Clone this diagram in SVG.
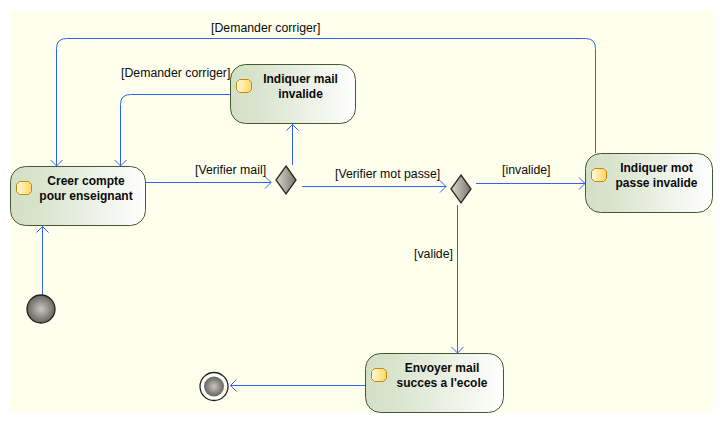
<svg xmlns="http://www.w3.org/2000/svg" width="723" height="423" viewBox="0 0 723 423">
<style>
.n{fill:url(#ng);stroke:#44592f;stroke-width:1}
.ic{fill:url(#ig);stroke:#c28a00;stroke-width:1}
.d{fill:url(#dg);stroke:#2a2a22;stroke-width:1.3}
.c{fill:none;stroke:#2f62f5;stroke-width:1;marker-end:url(#a)}
text{font-family:"Liberation Sans",Arial,sans-serif;font-size:12px;fill:#0a0a0a}
.l{font-size:12.300px}
.b{font-weight:bold;text-anchor:middle}
</style>
<defs>
<linearGradient id="ng"><stop offset="0" stop-color="#d3e0c6"/><stop offset="0.2" stop-color="#d8e3cc"/><stop offset="1" stop-color="#ffffff"/></linearGradient>
<linearGradient id="ig"><stop offset="0" stop-color="#fff9e0"/><stop offset="1" stop-color="#ffd860"/></linearGradient>
<linearGradient id="dg"><stop offset="0" stop-color="#d8d8ce"/><stop offset="1" stop-color="#777770"/></linearGradient>
<radialGradient id="sg"><stop offset="0" stop-color="#c8c8c0"/><stop offset="1" stop-color="#66665f"/></radialGradient>
<marker id="a" markerUnits="userSpaceOnUse" markerWidth="14" markerHeight="14" refX="9" refY="7" orient="auto"><path d="M3 1 L9 7 L3 13" fill="none" stroke="#2f62f5" stroke-width="1"/></marker>
<path id="ico" class="ic" d="M3 0H12L15 3V10L12 13H3L0 10V3Z"/>
</defs>
<rect x="10" y="10" width="703" height="403" fill="#ffffee"/>
<g id="connectors">
<path class="c" d="M42.500 295V226.500"/>
<path class="c" d="M146 182.500H271"/>
<path class="c" d="M292.500 165V124.500"/>
<path class="c" d="M302 186.500H446"/>
<path class="c" d="M476 183.500H585"/>
<path class="c" d="M457.500 205V353"/>
<path class="c" d="M365 385.500H230.500"/>
<path class="c" d="M230 94.500H130.500Q120.500 94.500 120.500 104.500V166"/>
<path class="c" d="M595.500 153V48.500Q595.500 38.500 585.500 38.500H66.500Q56.500 38.500 56.500 48.500V166"/>
</g>
<g id="labels">
<text class="l" x="211" y="32">[Demander corriger]</text>
<text class="l" x="121" y="77">[Demander corriger]</text>
<text class="l" x="195" y="174">[Verifier mail]</text>
<text class="l" x="335" y="178">[Verifier mot passe]</text>
<text class="l" x="502" y="174">[invalide]</text>
<text class="l" x="414" y="258">[valide]</text>
</g>
<g id="creer"><rect class="n" x="10.500" y="166.500" width="135" height="59" rx="15"/><use href="#ico" x="16.500" y="181.500"/><text class="b" x="86" y="185">Creer compte</text><text class="b" x="86" y="200">pour enseignant</text></g>
<g id="mail"><rect class="n" x="230.500" y="64.500" width="125" height="59" rx="15"/><use href="#ico" x="236.500" y="79.500"/><text class="b" x="300.500" y="83">Indiquer mail</text><text class="b" x="300.500" y="98">invalide</text></g>
<g id="mot"><rect class="n" x="585.500" y="153.500" width="127" height="59" rx="15"/><use href="#ico" x="591.500" y="168.500"/><text class="b" x="656.500" y="172">Indiquer mot</text><text class="b" x="656.500" y="187">passe invalide</text></g>
<g id="envoyer"><rect class="n" x="365.500" y="353.500" width="138" height="59" rx="15"/><use href="#ico" x="371.500" y="368.500"/><text class="b" x="442" y="372">Envoyer mail</text><text class="b" x="442" y="387">succes a l'ecole</text></g>
<g id="dec1"><path class="d" d="M286 166L296 180L286 194L276 180Z"/></g>
<g id="dec2"><path class="d" d="M461 175L471 189L461 203L451 189Z"/></g>
<g id="start"><circle cx="41" cy="309" r="14" fill="url(#sg)" stroke="#22221c" stroke-width="1.300"/></g>
<g id="end"><circle cx="214" cy="386.500" r="14" fill="#fff" stroke="#22221c" stroke-width="1.300"/><circle cx="214" cy="386.500" r="10" fill="url(#sg)"/></g>
</svg>
